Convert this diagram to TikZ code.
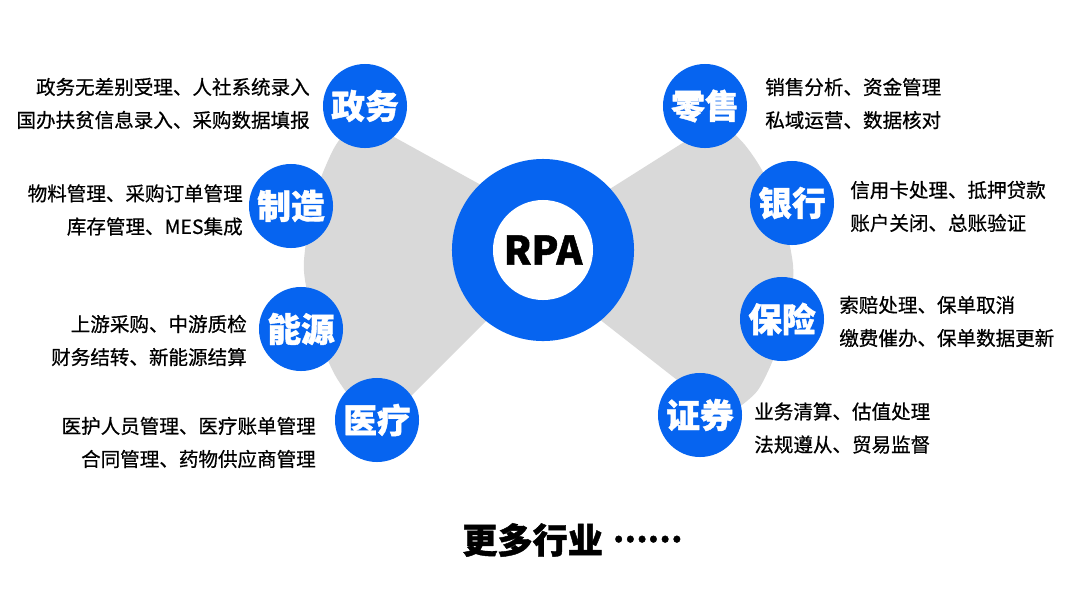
\documentclass[tikz,border=0pt]{standalone}
\usepackage{fontspec}
\setmainfont{Noto Sans CJK SC}
\newfontfamily\descfont{Noto Sans CJK SC}[FakeBold=0.6]
\newfontfamily\heavyfont{Noto Sans CJK SC}[BoldFeatures={FakeBold=1.2}]
\definecolor{rpablue}{RGB}{6,100,240}
\definecolor{lobegray}{RGB}{217,217,217}
\begin{document}
\begin{tikzpicture}[x=0.025cm,y=-0.025cm,
  hub/.style={circle,fill=rpablue,minimum size=2.1cm,inner sep=0pt,text=white,
    font=\heavyfont\fontsize{24}{24}\selectfont\bfseries},
  desc/.style={inner sep=0pt,text=black,font=\descfont\fontsize{13.9}{23.5}\selectfont},
  descl/.style={desc,anchor=east,align=right},
  descr/.style={desc,anchor=west,align=left},
  lobe/.style={fill=lobegray}]
\useasboundingbox[fill=white] (0,0) rectangle (1080,608);
% gray lobes
\fill[lobe] plot[smooth] coordinates {(350,126) (333,150) (315,195) (305,250) (305,280) (318,335) (335,375) (355,404)}
  -- (400,407) -- (505,302) -- (543,250) -- (510,201) -- (385,132) -- cycle;
\fill[lobe] plot[smooth] coordinates {(725,125) (745,145) (763,172) (782,215) (793,265) (790,305) (777,350) (758,390) (735,410)}
  -- (695,394) -- (580,304) -- (543,250) -- (575,211) -- (700,132) -- cycle;
% central ring
\node[circle,fill=rpablue,minimum size=4.55cm,inner sep=0pt] (ring) at (543,250) {};
\node[circle,fill=white,minimum size=2.5cm,inner sep=0pt,font=\heavyfont\fontsize{28}{28}\selectfont\bfseries] (rpa) at (ring.center) {RPA};
% hubs
\node[hub] (zw) at (365,106) {政务};
\node[hub] (zz) at (291,206) {制造};
\node[hub] (ny) at (301,329) {能源};
\node[hub] (yl) at (377,420) {医疗};
\node[hub] (ls) at (705,106) {零售};
\node[hub] (yh) at (792,203) {银行};
\node[hub] (bx) at (782,319) {保险};
\node[hub] (zq) at (700,415) {证券};
% descriptions
\node[descl] (tzw) at (310,103.5) {政务无差别受理、人社系统录入\\国办扶贫信息录入、采购数据填报};
\node[descl] (tzz) at (243,210) {物料管理、采购订单管理\\库存管理、MES集成};
\node[descl] (tny) at (247,340.5) {上游采购、中游质检\\财务结转、新能源结算};
\node[descl] (tyl) at (316,442.5) {医护人员管理、医疗账单管理\\合同管理、药物供应商管理};
\node[descr] (tls) at (765,103.5) {销售分析、资金管理\\私域运营、数据核对};
\node[descr] (tyh) at (850,206.5) {信用卡处理、抵押贷款\\账户关闭、总账验证};
\node[descr] (tbx) at (839,321.5) {索赔处理、保单取消\\缴费催办、保单数据更新};
\node[descr] (tzq) at (754,428) {业务清算、估值处理\\法规遵从、贸易监督};
% footer
\node[anchor=west,inner sep=0pt,font=\heavyfont\fontsize{25}{25}\selectfont\bfseries] (more) at (462,540) {更多行业\hspace{7pt}\raisebox{8pt}{\fontsize{22}{22}\selectfont ……}};
\end{tikzpicture}
\end{document}
